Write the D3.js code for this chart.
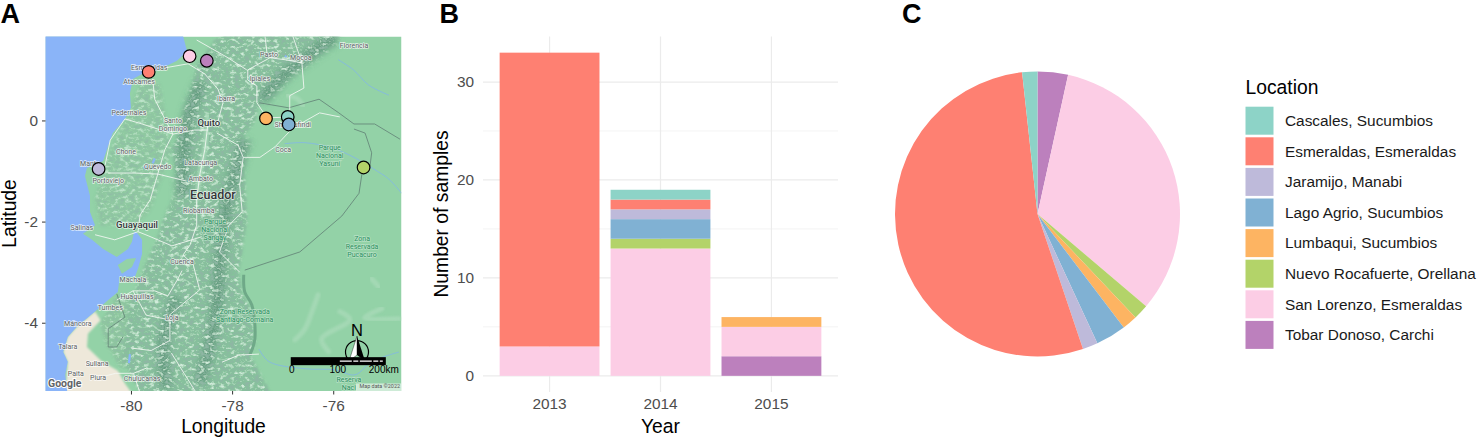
<!DOCTYPE html>
<html>
<head>
<meta charset="utf-8">
<script src="https://cdn.jsdelivr.net/npm/d3@7"></script>
<style>
  html, body { margin: 0; background: #fff; }
  svg { display: block; font-family: "Liberation Sans", Arial, sans-serif; }
</style>
</head>
<body>
<div id="chart"></div>
<script>
// Sample data
const locations = ["Cascales, Sucumbios", "Esmeraldas, Esmeraldas", "Jaramijo, Manabi", "Lago Agrio, Sucumbios",
  "Lumbaqui, Sucumbios", "Nuevo Rocafuerte, Orellana", "San Lorenzo, Esmeraldas", "Tobar Donoso, Carchi"];
const locationColors = ["#8dd3c7", "#fe8072", "#bebada", "#80b1d3", "#fdb462", "#b3d369", "#fccde5", "#bc80bd"];
const siteLon = [-76.9, -79.65, -80.64, -76.88, -77.33, -75.4, -78.84, -78.5];
const siteLat = [0.07, 0.96, -0.96, -0.08, 0.04, -0.93, 1.27, 1.18];
const years = ["2013", "2014", "2015"];
const counts2013 = [0, 30, 0, 0, 0, 0, 3, 0];
const counts2014 = [1, 1, 1, 2, 0, 1, 13, 0];
const counts2015 = [0, 0, 0, 0, 1, 0, 3, 2];
const totals = [1, 31, 1, 2, 1, 1, 19, 2];

const lonTicks = [-80, -78, -76];
const latTicks = [-4, -2, 0];
const countTicks = [0, 10, 20, 30];
const countMinorTicks = [5, 15, 25];

// Base map shapes, all [lon, lat]
const oceanOutline = [[-81.8, 1.8], [-78.97, 1.8], [-78.97, 1.67], [-78.89, 1.37], [-79.09, 1.18], [-79.29, 1.08], [-79.53, 0.98],
  [-79.78, 0.92], [-79.96, 0.82], [-80.02, 0.54], [-80, 0.25], [-80.12, 0.03], [-80.36, -0.25], [-80.45, -0.5], [-80.55, -0.8],
  [-80.87, -0.94], [-80.91, -1.1], [-80.81, -1.49], [-80.81, -1.81], [-80.71, -2.07], [-80.95, -2.24], [-80.77, -2.36],
  [-80.55, -2.54], [-80.28, -2.7], [-80.06, -2.54], [-79.98, -2.4], [-79.94, -2.2], [-79.88, -2.22], [-79.78, -2.36],
  [-79.78, -2.64], [-79.86, -2.93], [-79.92, -3.09], [-80.22, -3.09], [-80.26, -3.39], [-80.45, -3.55], [-80.71, -3.78],
  [-81.07, -4.08], [-81.25, -4.28], [-81.34, -4.58], [-81.25, -4.77], [-81.3, -5.03], [-81.25, -5.45], [-81.8, -5.45]];
const punaIsland = [[-80.26, -2.86], [-80.08, -2.74], [-79.9, -2.72], [-79.98, -2.9], [-80.18, -3.03]];
const desertArea = [[-80.71, -3.78], [-80.6, -3.95], [-80.85, -4.22], [-80.87, -4.48], [-80.58, -4.76], [-80.26, -4.95],
  [-80.12, -5.2], [-79.94, -5.45], [-81.3, -5.45], [-81.25, -4.77], [-81.34, -4.58], [-81.25, -4.28], [-81.07, -4.08]];
const coastHills = [[-79.78, 0.82], [-80.02, 0.2], [-80.36, -0.5], [-80.51, -0.88], [-80.71, -1.57], [-80.6, -2.07], [-79.92, -2.07],
  [-79.62, -1.78], [-79.19, -0.58], [-79.27, -0.19], [-79.43, 0.72]];
const southHills = [[-80.3, -3.5], [-79.9, -3.4], [-79.8, -4.8], [-80.2, -4.9], [-80.5, -4.4], [-80.6, -4]];
const andesArea = [[-75.87, 1.67], [-76.36, 1.27], [-76.58, 1.04], [-77.08, 0.82], [-77.47, 0.29], [-77.57, -0.05], [-77.81, -0.37],
  [-77.85, -0.64], [-77.75, -1.18], [-77.71, -2], [-77.87, -2.99], [-77.81, -3.39], [-77.61, -3.78], [-77.55, -4.44], [-77.65, -4.63],
  [-77.21, -5.45], [-79.78, -5.45], [-80.18, -4.71], [-80.12, -4.34], [-80.06, -3.78], [-79.92, -3.39], [-79.72, -2.86],
  [-79.53, -2.46], [-79.33, -1.89], [-79.07, -1.29], [-79.19, -0.56], [-79.07, -0.31], [-78.79, 0.7], [-78.7, 1.1], [-78.34, 1.59], [-78.14, 1.67]];
const darkRidges = [
  [[-77.41, 0.41], [-76.96, 0.9], [-76.46, 1.3], [-75.96, 1.65]],
  [[-77.75, -0.38], [-77.95, -1.08], [-78.14, -1.87], [-78.24, -2.76], [-78.34, -3.94], [-78.64, -5.2]],
  [[-78.6, 0.75], [-78.85, 0.1], [-78.95, -0.6], [-78.98, -1.5]],
  [[-79.1, -3.5], [-79.35, -4.4], [-79.3, -5.3]]
];
const paleValleys = [
  [[-78.48, 0.1], [-78.54, -0.58], [-78.64, -1.08], [-78.7, -1.57]],
  [[-76.3, -3.45], [-76.42, -3.78], [-76.56, -4.12], [-76.76, -4.34]],
  [[-75.87, -3.78], [-75.67, -3.94], [-76.23, -4.32], [-76.09, -4.57]],
  [[-75.04, -3.72], [-75.38, -3.9], [-74.7, -3.92]],
  [[-75.24, -3.13], [-75.1, -3.29]],
  [[-76.9, 0.5], [-76.7, 0.42], [-76.6, 0.3]]
];
const foothillEdge = [[-77.77, -3.05], [-77.75, -3.39], [-77.61, -3.65], [-77.55, -4.32], [-77.65, -4.64]];
const rivers = [
  [[-76.96, -0.46], [-76.56, -0.44], [-76.03, -0.54], [-75.57, -0.74], [-75.2, -0.96], [-74.9, -1.16], [-74.65, -1.44]],
  [[-77.47, -4.52], [-77.27, -4.77], [-76.56, -4.91], [-75.97, -4.93], [-75.57, -5.03], [-75.24, -4.77], [-74.7, -4.58]],
  [[-75.9, 1.2], [-75.6, 1], [-75.3, 0.7], [-74.9, 0.5]]
];
const lakes = [[[-79.75, -0.95], [-79.7, -0.9]], [[-79.57, -0.85], [-79.53, -0.75]], [[-80.02, -4.62], [-80.04, -4.8]], [[-76.95, 1.25], [-76.93, 1.28]]];
const roads = [
  [[-79.33, 1.04], [-78.87, 1.12], [-78.54, 0.92], [-78.28, 0.62], [-78.18, 0.35], [-78.3, -0.09]],
  [[-79.57, 0.82], [-79.53, 0.42], [-79.33, 0.03], [-79.17, -0.27]],
  [[-80.12, 0.03], [-79.78, -0.07], [-79.47, -0.17], [-79.17, -0.27], [-78.74, -0.19], [-78.48, -0.19]],
  [[-80.12, 0.03], [-80.41, -0.39], [-80.51, -0.88], [-80.71, -1.08]],
  [[-80.45, -1.04], [-79.92, -1.04], [-79.47, -1.06], [-78.9, -1.2]],
  [[-79.17, -0.27], [-79.33, -0.58], [-79.47, -1.06], [-79.62, -1.57], [-79.82, -1.87], [-79.86, -2.2]],
  [[-78.48, -0.09], [-78.54, -0.58], [-78.64, -1.08], [-78.7, -1.57], [-78.7, -2.07], [-78.83, -2.46], [-78.97, -2.66], [-78.77, -2.85], [-78.64, -3.35], [-79.23, -3.84], [-79.23, -4.35], [-79.6, -4.55], [-80.0, -4.5]],
  [[-79.86, -2.2], [-80.32, -2.36], [-80.71, -2.26]],
  [[-79.86, -2.2], [-79.66, -2.28], [-79.19, -2.48], [-78.6, -2.3]],
  [[-79.96, -3.37], [-79.53, -3.37], [-79.27, -3.47], [-79.07, -3.13], [-78.99, -2.97]],
  [[-80.28, -3.55], [-79.96, -3.37], [-79.7, -3.85], [-79.2, -3.95]],
  [[-78.3, -0.25], [-77.88, -0.49], [-77.78, -0.73], [-77.45, -0.73], [-77.15, -0.52], [-76.8, -0.15], [-76.27, 0.15], [-75.87, 0.07]],
  [[-76.85, 0.07], [-77.31, 0.05], [-77.51, 0.35], [-77.51, 0.68], [-77.69, 0.8], [-77.69, 1], [-77.25, 1.24], [-76.95, 1.2], [-76.62, 1.14]],
  [[-76.86, 0.1], [-76.86, 0.49], [-76.58, 0.64], [-76.62, 1.14], [-76.8, 1.67]],
  [[-77.35, 1.67], [-77.31, 1.33]],
  [[-78.7, 1.59], [-78.1, 1.25], [-77.71, 1]],
  [[-77.78, -0.73], [-77.85, -1.28], [-77.8, -1.81], [-78.06, -2.07], [-78.25, -2.6], [-77.85, -3]],
  [[-78.2, -4.78], [-77.87, -4.64], [-77.47, -4.62]],
  [[-79.2, -4.6], [-78.95, -5], [-78.7, -5.4]],
  [[-79.8, -5.45], [-79.95, -5], [-79.7, -4.9]],
  [[-80.7, -5.1], [-80.3, -5], [-79.95, -5]]
];
const borders = [
  [[-75.43, -1.04], [-75.49, -1.44], [-75.83, -1.89], [-76.66, -2.6], [-77.75, -2.96]],
  [[-77.47, 0.35], [-76.88, 0.25], [-76.28, 0.42], [-75.89, 0.15], [-75.59, -0.07], [-75.18, -0.07], [-74.68, -0.37]],
  [[-75.59, -0.17], [-75.37, -0.25], [-75.24, -0.64], [-75.28, -0.96]],
  [[-80.28, -3.43], [-80.12, -3.89], [-80.45, -4.12], [-80.45, -4.48], [-80.28, -4.48], [-80.16, -4.28]]
];

// Map labels, [text, lon, lat]
const cityLabels = [["Florencia", -75.59, 1.49], ["Pasto", -77.27, 1.31], ["Mocoa", -76.64, 1.24], ["Ipiales", -77.45, 0.82],
  ["Ibarra", -78.12, 0.44], ["Esmeraldas", -79.64, 1.05], ["Atacames", -79.84, 0.76], ["Pedernales", -80.04, 0.15],
  ["Santo", -79.17, -0.01], ["Domingo", -79.17, -0.17], ["Shushufindi", -76.8, -0.09], ["Coca", -76.99, -0.58], ["Chone", -80.1, -0.62],
  ["Manta", -80.81, -0.86], ["Portoviejo", -80.45, -1.18], ["Quevedo", -79.47, -0.92], ["Latacunga", -78.62, -0.84],
  ["Ambato", -78.62, -1.14], ["Riobamba", -78.66, -1.79], ["Salinas", -80.97, -2.12], ["Cuenca", -78.99, -2.8], ["Machala", -79.96, -3.15],
  ["Huaquillas", -79.88, -3.49], ["Tumbes", -80.41, -3.69], ["Loja", -79.19, -3.9], ["Máncora", -81.05, -4.02], ["Talara", -81.25, -4.48],
  ["Sullana", -80.67, -4.81], ["Paita", -81.09, -5.01], ["Piura", -80.65, -5.09], ["Chulucanas", -79.78, -5.11]];
const bigLabels = [["Quito", -78.46, -0.05, 9.5], ["Guayaquil", -79.88, -2.07, 9.5], ["Ecuador", -78.38, -1.47, 12.5]];
const parkLabels = [["Parque", -76.07, -0.54], ["Nacional", -76.07, -0.7], ["Yasuní", -76.07, -0.86],
  ["Parque", -78.34, -2], ["Nacional", -78.34, -2.16], ["Sangay", -78.34, -2.32],
  ["Zona", -75.43, -2.34], ["Reservada", -75.43, -2.5], ["Pucacuro", -75.43, -2.66],
  ["Zona Reservada", -77.75, -3.78], ["Santiago-Comaina", -77.75, -3.94], ["Reserva", -75.69, -5.13], ["Naci", -75.69, -5.29]];

// Scale bar labels, [text, lon]
const scaleBarLabels = [["0", -76.82], ["100", -75.91], ["200km", -75.0]];

// Layout
const width = 1477;
const height = 438;
const mapLeft = 45.5, mapRight = 401.5, mapTop = 36.5, mapBottom = 391;
const barLeft = 483, barRight = 838, barTop = 36.5, barBottom = 392;
const pieX = 1037.5, pieY = 214, pieRadius = 142.5;
const tickFont = 15.4, titleFont = 19.3;

const color = d3.scaleOrdinal().domain(locations).range(locationColors);

const svg = d3.select("#chart").append("svg")
  .attr("width", width)
  .attr("height", height)
  .attr("viewBox", [0, 0, width, height]);

const defs = svg.append("defs");
defs.append("clipPath").attr("id", "mapClip").append("rect")
  .attr("x", mapLeft).attr("y", mapTop).attr("width", mapRight - mapLeft).attr("height", mapBottom - mapTop);

// Mottled relief over the mountains: dark and light noise inside the shapes
const relief = defs.append("filter").attr("id", "relief")
  .attr("filterUnits", "userSpaceOnUse")
  .attr("x", mapLeft).attr("y", mapTop).attr("width", mapRight - mapLeft).attr("height", mapBottom - mapTop);
relief.append("feGaussianBlur").attr("in", "SourceGraphic").attr("stdDeviation", 1.6).attr("result", "soft");
relief.append("feTurbulence").attr("type", "fractalNoise").attr("baseFrequency", "0.2 0.28").attr("numOctaves", 3).attr("seed", 7).attr("result", "noise");
relief.append("feColorMatrix").attr("in", "noise").attr("type", "matrix")
  .attr("values", "0 0 0 0 0.27  0 0 0 0 0.47  0 0 0 0 0.37  3.6 0 0 0 -1.65").attr("result", "dark");
relief.append("feColorMatrix").attr("in", "noise").attr("type", "matrix")
  .attr("values", "0 0 0 0 0.64  0 0 0 0 0.84  0 0 0 0 0.71  -3.6 0 0 0 1.7").attr("result", "light");
relief.append("feComposite").attr("in", "dark").attr("in2", "soft").attr("operator", "in").attr("result", "darkIn");
relief.append("feComposite").attr("in", "light").attr("in2", "soft").attr("operator", "in").attr("result", "lightIn");
const reliefMerge = relief.append("feMerge");
reliefMerge.append("feMergeNode").attr("in", "soft");
reliefMerge.append("feMergeNode").attr("in", "lightIn");
reliefMerge.append("feMergeNode").attr("in", "darkIn");

defs.append("filter").attr("id", "softRidge").append("feGaussianBlur").attr("stdDeviation", 3);
defs.append("filter").attr("id", "softLine").append("feGaussianBlur").attr("stdDeviation", 0.9);

// ---- Panel A: map ----
const lonScale = d3.scaleLinear().domain([-81.69, -74.65]).range([mapLeft, mapRight]);
const latScale = d3.scaleLinear().domain([-5.35, 1.66]).range([mapBottom, mapTop]);
const geoLine = d3.line().x(d => lonScale(d[0])).y(d => latScale(d[1]));
const geoShape = d3.line().x(d => lonScale(d[0])).y(d => latScale(d[1])).curve(d3.curveLinearClosed);
const geoCurve = d3.line().x(d => lonScale(d[0])).y(d => latScale(d[1])).curve(d3.curveCatmullRom);

const map = svg.append("g").attr("clip-path", "url(#mapClip)");

map.append("rect").attr("x", mapLeft).attr("y", mapTop)
  .attr("width", mapRight - mapLeft).attr("height", mapBottom - mapTop).attr("fill", "#93d2a7");

const hillLayer = map.append("g").attr("filter", "url(#relief)").attr("opacity", 0.7);
hillLayer.append("path").attr("d", geoShape(coastHills)).attr("fill", "#8fc79f");
hillLayer.append("path").attr("d", geoShape(southHills)).attr("fill", "#8cc49b");

map.append("path").attr("d", geoShape(desertArea)).attr("fill", "#eee8da").attr("filter", "url(#softLine)");

const andes = map.append("g").attr("filter", "url(#relief)");
andes.append("path").attr("d", geoShape(andesArea)).attr("fill", "#86c29b");
andes.append("g").attr("filter", "url(#softRidge)")
  .selectAll(".ridge").data(darkRidges).join("path")
  .attr("class", "ridge")
  .attr("d", geoCurve)
  .attr("fill", "none")
  .attr("stroke", "#5f9a7b")
  .attr("stroke-width", 12);

map.selectAll(".valley").data(paleValleys).join("path")
  .attr("class", "valley")
  .attr("d", geoCurve)
  .attr("fill", "none")
  .attr("stroke", "#a8dab8")
  .attr("stroke-width", 5)
  .attr("stroke-linecap", "round")
  .attr("opacity", 0.8)
  .attr("filter", "url(#softLine)");

map.append("path").attr("d", geoCurve(foothillEdge)).attr("fill", "none")
  .attr("stroke", "#6fa988").attr("stroke-width", 3);

map.append("path").attr("d", geoShape(oceanOutline)).attr("fill", "#8ab4f8");
map.append("path").attr("d", geoShape(punaIsland)).attr("fill", "#93d2a7");

map.selectAll(".river").data(rivers).join("path")
  .attr("class", "river").attr("d", geoCurve)
  .attr("fill", "none").attr("stroke", "#86bcdc").attr("stroke-width", 1);
map.selectAll(".lake").data(lakes).join("path")
  .attr("class", "lake").attr("d", geoLine)
  .attr("fill", "none").attr("stroke", "#8ab4f8").attr("stroke-width", 2.2);

map.selectAll(".border").data(borders).join("path")
  .attr("class", "border").attr("d", geoLine)
  .attr("fill", "none").attr("stroke", "#66897a").attr("stroke-width", 0.9);

map.selectAll(".road").data(roads).join("path")
  .attr("class", "road").attr("d", geoLine)
  .attr("fill", "none").attr("stroke", "#f4f8f4").attr("stroke-width", 1).attr("stroke-opacity", 0.85)
  .attr("stroke-linejoin", "round");

// Map text
const labelFont = "Roboto, sans-serif";
function mapText(rows, fill, halo, size, weight) {
  map.append("g").selectAll("text").data(rows).join("text")
    .attr("x", d => lonScale(d[1]))
    .attr("y", d => latScale(d[2]))
    .attr("dy", "0.35em")
    .attr("text-anchor", "middle")
    .attr("font-family", labelFont)
    .attr("font-size", d => d[3] || size)
    .attr("font-weight", weight)
    .attr("fill", fill)
    .attr("stroke", halo)
    .attr("stroke-width", 1.4)
    .attr("stroke-opacity", 0.75)
    .attr("paint-order", "stroke")
    .text(d => d[0]);
}
mapText(cityLabels, "#5a5f63", "#ffffff", 7, 400);
mapText(bigLabels, "#333638", "#ffffff", 9.5, 500);
mapText(parkLabels, "#2c8f5f", "#c4e6cf", 7, 400);

// Google mark and credit
map.append("text").attr("x", lonScale(-81.64)).attr("y", latScale(-5.27))
  .attr("font-family", labelFont).attr("font-size", 10.5).attr("font-weight", 700)
  .attr("fill", "#5f6368").attr("stroke", "#ffffff").attr("stroke-width", 2).attr("paint-order", "stroke")
  .text("Google");
map.append("rect").attr("x", lonScale(-75.55)).attr("y", latScale(-5.2))
  .attr("width", lonScale(-74.65) - lonScale(-75.55)).attr("height", latScale(-5.35) - latScale(-5.2))
  .attr("fill", "#ffffff").attr("opacity", 0.55);
map.append("text").attr("x", lonScale(-74.68)).attr("y", latScale(-5.3))
  .attr("text-anchor", "end").attr("font-family", labelFont).attr("font-size", 5.4).attr("fill", "#555")
  .text("Map data ©2022");

// North arrow
const arrowX = lonScale(-75.53);
const arrowY = latScale(-4.58);
map.append("circle").attr("cx", arrowX).attr("cy", arrowY).attr("r", 11.5)
  .attr("fill", "none").attr("stroke", "#000").attr("stroke-width", 1.2);
const arrowLeft = d3.path();
arrowLeft.moveTo(arrowX, arrowY - 16);
arrowLeft.lineTo(arrowX, arrowY + 3);
arrowLeft.lineTo(arrowX - 8, arrowY + 9);
arrowLeft.closePath();
map.append("path").attr("d", arrowLeft.toString()).attr("fill", "#fff").attr("stroke", "#000").attr("stroke-width", 0.4);
const arrowRight = d3.path();
arrowRight.moveTo(arrowX, arrowY - 16);
arrowRight.lineTo(arrowX, arrowY + 3);
arrowRight.lineTo(arrowX + 8, arrowY + 9);
arrowRight.closePath();
map.append("path").attr("d", arrowRight.toString()).attr("fill", "#000");
map.append("text").attr("x", arrowX).attr("y", arrowY - 16.5).attr("text-anchor", "middle")
  .attr("font-size", 16.5).attr("fill", "#000").text("N");

// Scale bar
const barY = latScale(-4.76);
const barH = 8;
map.append("rect").attr("x", lonScale(-76.84)).attr("y", barY - barH / 2)
  .attr("width", lonScale(-74.96) - lonScale(-76.84)).attr("height", barH).attr("fill", "#000");
map.append("line").attr("x1", lonScale(-75.87)).attr("x2", lonScale(-75.02)).attr("y1", barY).attr("y2", barY)
  .attr("stroke", "#fff").attr("stroke-width", 1.2).attr("stroke-dasharray", "12 1.5 5 1.5");

map.selectAll(".scaleLabel").data(scaleBarLabels).join("text")
  .attr("class", "scaleLabel")
  .attr("x", d => lonScale(d[1]))
  .attr("y", barY + 12)
  .attr("text-anchor", "middle")
  .attr("font-size", 10)
  .attr("fill", "#000")
  .text(d => d[0]);

// Sites
svg.append("g").selectAll("circle").data(locations).join("circle")
  .attr("cx", (d, i) => lonScale(siteLon[i]))
  .attr("cy", (d, i) => latScale(siteLat[i]))
  .attr("r", 6.3)
  .attr("fill", d => color(d))
  .attr("stroke", "#000")
  .attr("stroke-width", 1.2);

// Map axes
const mapX = svg.append("g")
  .attr("transform", `translate(0,${mapBottom})`)
  .call(d3.axisBottom(lonScale).tickValues(lonTicks).tickSize(3.5).tickPadding(6).tickFormat(d => String(d)));
const mapY = svg.append("g")
  .attr("transform", `translate(${mapLeft},0)`)
  .call(d3.axisLeft(latScale).tickValues(latTicks).tickSize(3.5).tickPadding(4).tickFormat(d => String(d)));
[mapX, mapY].forEach(g => {
  g.select(".domain").remove();
  g.selectAll("line").attr("stroke", "#333");
  g.selectAll("text").attr("fill", "#4d4d4d").attr("font-size", tickFont).attr("font-family", "Liberation Sans");
});

svg.append("text").attr("x", 223.5).attr("y", 433).attr("text-anchor", "middle").attr("font-size", titleFont).text("Longitude");
svg.append("text").attr("transform", "translate(15.5,213.5) rotate(-90)").attr("text-anchor", "middle").attr("font-size", titleFont).text("Latitude");

// ---- Panel B: stacked bars ----
const barX = d3.scaleBand().domain(years).range([barLeft, barRight]).paddingInner(0.1).paddingOuter(0.15);
const barYScale = d3.scaleLinear().domain([-1.65, 34.65]).range([barBottom, barTop]);

svg.append("g").selectAll("line").data(countMinorTicks).join("line")
  .attr("x1", barLeft).attr("x2", barRight)
  .attr("y1", d => barYScale(d)).attr("y2", d => barYScale(d))
  .attr("stroke", "#efefef").attr("stroke-width", 0.7);
svg.append("g").selectAll("line").data(countTicks).join("line")
  .attr("x1", barLeft).attr("x2", barRight)
  .attr("y1", d => barYScale(d)).attr("y2", d => barYScale(d))
  .attr("stroke", "#ebebeb").attr("stroke-width", 1.2);
svg.append("g").selectAll("line").data(years).join("line")
  .attr("x1", d => barX(d) + barX.bandwidth() / 2).attr("x2", d => barX(d) + barX.bandwidth() / 2)
  .attr("y1", barTop).attr("y2", barBottom)
  .attr("stroke", "#ebebeb").attr("stroke-width", 1.2);

const yearTable = years.map((year, j) => {
  const counts = [counts2013, counts2014, counts2015][j];
  const row = { year };
  locations.forEach((loc, i) => { row[loc] = counts[i]; });
  return row;
});
const stacked = d3.stack().keys([...locations].reverse())(yearTable);

svg.append("g").selectAll("g").data(stacked).join("g")
  .attr("fill", d => color(d.key))
  .selectAll("rect").data(d => d).join("rect")
  .attr("x", d => barX(d.data.year))
  .attr("width", barX.bandwidth())
  .attr("y", d => barYScale(d[1]))
  .attr("height", d => barYScale(d[0]) - barYScale(d[1]));

const barAxisX = svg.append("g")
  .attr("transform", `translate(0,${barBottom})`)
  .call(d3.axisBottom(barX).tickSize(0).tickPadding(6));
const barAxisY = svg.append("g")
  .attr("transform", `translate(${barLeft},0)`)
  .call(d3.axisLeft(barYScale).tickValues(countTicks).tickSize(0).tickPadding(9));
[barAxisX, barAxisY].forEach(g => {
  g.select(".domain").remove();
  g.selectAll("text").attr("fill", "#4d4d4d").attr("font-size", tickFont).attr("font-family", "Liberation Sans");
});

svg.append("text").attr("x", 660.5).attr("y", 433).attr("text-anchor", "middle").attr("font-size", titleFont).text("Year");
svg.append("text").attr("transform", "translate(448,214) rotate(-90)").attr("text-anchor", "middle").attr("font-size", titleFont).text("Number of samples");

// ---- Panel C: pie ----
const pieRows = locations.map((loc, i) => ({ loc, value: totals[i] })).reverse();
const arcs = d3.pie().sort(null).value(d => d.value)(pieRows);
const arc = d3.arc().innerRadius(0).outerRadius(pieRadius);
svg.append("g").attr("transform", `translate(${pieX},${pieY})`)
  .selectAll("path").data(arcs).join("path")
  .attr("d", arc)
  .attr("fill", d => color(d.data.loc));

// ---- Legend ----
const legendX = 1245.5, legendY = 106.7, legendStep = 30.6, legendKey = 28;
svg.append("text").attr("x", legendX).attr("y", 94).attr("font-size", titleFont).text("Location");
const legend = svg.append("g").selectAll("g").data(locations).join("g")
  .attr("transform", (d, i) => `translate(${legendX},${legendY + i * legendStep})`);
legend.append("rect").attr("width", legendKey).attr("height", legendKey).attr("fill", d => color(d));
legend.append("text")
  .attr("x", 39.5)
  .attr("y", legendKey / 2)
  .attr("dy", "0.35em")
  .attr("font-size", tickFont)
  .attr("fill", "#1a1a1a")
  .text(d => d);

// Panel letters
svg.selectAll(".tag").data([["A", 0.5], ["B", 439.5], ["C", 902]]).join("text")
  .attr("class", "tag")
  .attr("x", d => d[1])
  .attr("y", 23)
  .attr("font-size", 27)
  .attr("font-weight", 700)
  .text(d => d[0]);
</script>
</body>
</html>
